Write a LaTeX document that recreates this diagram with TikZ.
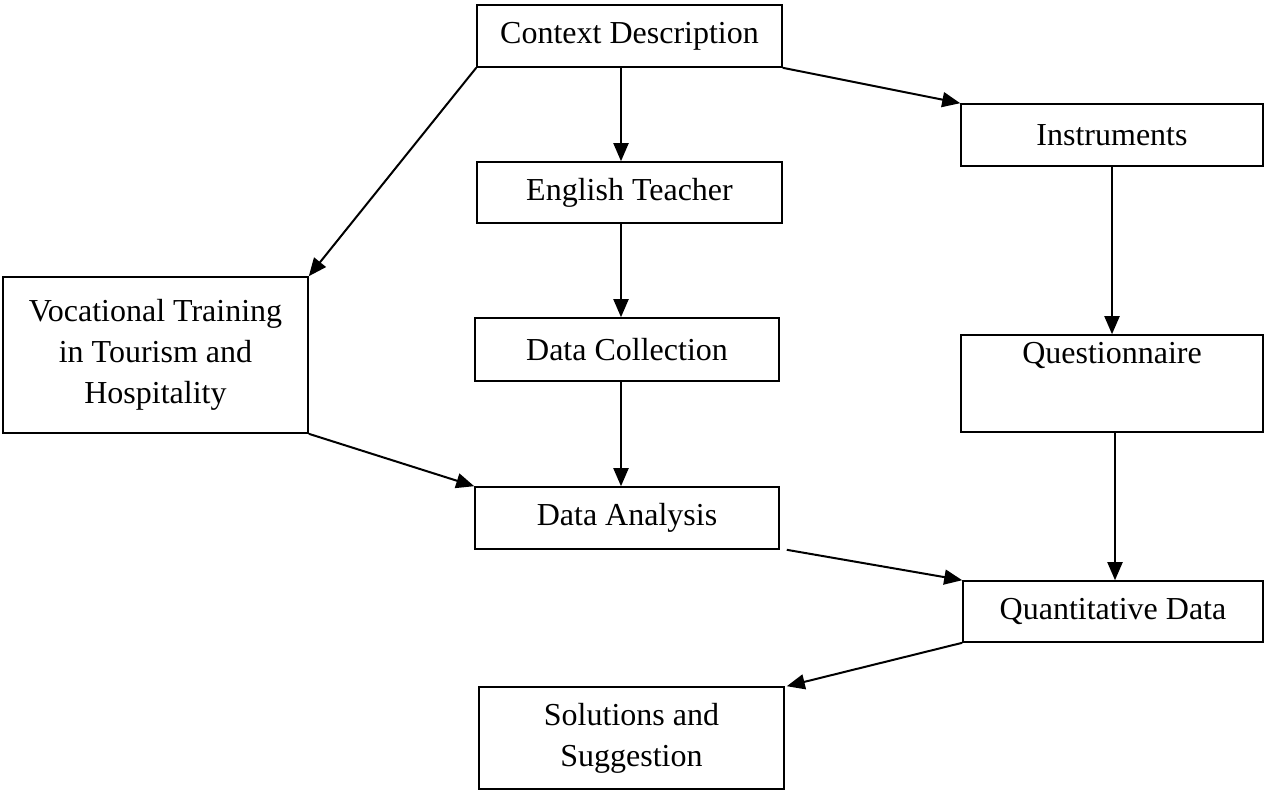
\documentclass[tikz,border=0pt]{standalone}
\usepackage{fontspec}
\setmainfont{Liberation Serif}
\usepackage{tikz}
\usetikzlibrary{arrows.meta}
\usetikzlibrary{positioning}

\begin{document}
\begin{tikzpicture}[x=1pt,y=1pt,yscale=-1,xscale=1]
  \useasboundingbox (0,0) rectangle (1265,792);
  \tikzstyle{arrow} = [line width=2pt,-{Triangle[length=18pt,width=15pt]}]
  \tikzstyle{box} = [draw,line width=1.6pt,rectangle,align=center,inner sep=0pt,font=\fontsize{32}{41}\selectfont]
  %Draw the middle column
  \node[box,minimum width=305pt,minimum height=62pt] (ctx) at (629.5,36) {Context Description};
  \node[box,minimum width=305pt,minimum height=61pt] (eng) at (629.5,192.5) {English Teacher};
  \node[box,minimum width=304pt,minimum height=63pt] (coll) at (627,349.5) {Data Collection};
  \node[box,minimum width=304pt,minimum height=62pt] (anal) at (627,518) {Data Analysis};
  \node[box,minimum width=305pt,minimum height=102pt] (sol) at (631.5,738) {Solutions and\\Suggestion};
  %Draw the right column
  \node[box,minimum width=302pt,minimum height=62pt] (instr) at (1112,135) {Instruments};
  \node[box,minimum width=302pt,minimum height=97pt,text depth=62pt] (quest) at (1112,383.5) {Questionnaire};
  \node[box,minimum width=300pt,minimum height=61pt] (quant) at (1113,611.5) {Quantitative Data};
  %Draw the left box
  \node[box,minimum width=305pt,minimum height=156pt] (voc) at (155.5,355) {Vocational Training\\in Tourism and\\Hospitality};

  % Draw the arrows
  \draw[arrow] ([xshift=-8.5pt]ctx.south) -- ([xshift=-8.5pt]eng.north);
  \draw[arrow] ([xshift=-8.5pt]eng.south) -- ([xshift=-6pt]coll.north);
  \draw[arrow] ([xshift=-6pt]coll.south) -- ([xshift=-6pt]anal.north);
  \draw[arrow] (ctx.south west) -- (voc.north east);
  \draw[arrow] (ctx.south east) -- (instr.north west);
  \draw[arrow] (instr.south) -- (quest.north);
  \draw[arrow] (voc.south east) -- (anal.north west);
  \draw[arrow] ([xshift=7pt]anal.south east) -- (quant.north west);
  \draw[arrow] ([xshift=3pt]quest.south) -- ([xshift=2pt]quant.north);
  \draw[arrow] (quant.south west) -- ([xshift=2pt]sol.north east);
\end{tikzpicture}
\end{document}
